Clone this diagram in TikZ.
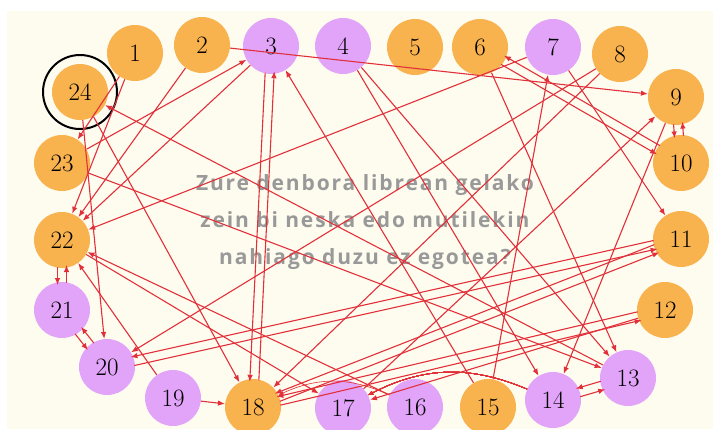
\documentclass[tikz,border=0pt]{standalone}
\usepackage{fontspec}
\usetikzlibrary{arrows.meta,calc}
\newfontfamily\titlefont{Open Sans}[LetterSpace=9]
\definecolor{cream}{HTML}{FEFCEF}
\definecolor{nodeorange}{HTML}{F8B24E}
\definecolor{nodepurple}{HTML}{E2A4F8}
\definecolor{edgered}{HTML}{E2303A}
\definecolor{titlegray}{HTML}{999999}
\tikzset{
  onode/.style={circle, fill=nodeorange, minimum size=56pt, inner sep=0pt, font=\fontsize{25}{25}\selectfont},
  pnode/.style={circle, fill=nodepurple, minimum size=56pt, inner sep=0pt, font=\fontsize{25}{25}\selectfont},
  edge/.style={draw=edgered, line width=1.1pt, -{Latex[length=7pt,width=5.5pt]}},
  thinedge/.style={draw=edgered, line width=0.6pt, -{Latex[length=5pt,width=4pt]}},
  titletext/.style={text=titlegray, font=\titlefont\bfseries\fontsize{21}{21}\selectfont, anchor=base}
}
\newcommand\biedge[2]{\draw[edge, shorten <=27pt, shorten >=25pt] ($(#1)!4.5pt!-90:(#2)$) -- ($(#2)!4.5pt!90:(#1)$);}
\begin{document}
\begin{tikzpicture}[x=1pt,y=-1pt]
\useasboundingbox (0,0) rectangle (713,429);
\clip (0,0) rectangle (713,429);
\fill[white] (0,0) rectangle (713,429);
\fill[cream] (7,11) rectangle (713,429);
% title
\node[titletext] (t1) at (365,190) {Zure denbora librean gelako};
\node[titletext] (t2) at (365,227) {zein bi neska edo mutilekin};
\node[titletext] (t3) at (365,264) {nahiago duzu ez egotea?};
% nodes
\node[onode] (n1) at (135,53) {1};
\node[onode] (n2) at (202,45) {2};
\node[pnode] (n3) at (271,46) {3};
\node[pnode] (n4) at (343,46) {4};
\node[onode] (n5) at (415,47) {5};
\node[onode] (n6) at (480,47) {6};
\node[pnode] (n7) at (553,47) {7};
\node[onode] (n8) at (620,54) {8};
\node[onode] (n9) at (676,97) {9};
\node[onode] (n10) at (681,163) {10};
\node[onode] (n11) at (681,239) {11};
\node[onode] (n12) at (665,310) {12};
\node[pnode] (n13) at (628,378) {13};
\node[pnode] (n14) at (553,400) {14};
\node[onode] (n15) at (488,407) {15};
\node[pnode] (n16) at (415,407) {16};
\node[pnode] (n17) at (343,408) {17};
\node[onode] (n18) at (253,407) {18};
\node[pnode] (n19) at (173,398) {19};
\node[pnode] (n20) at (107,367) {20};
\node[pnode] (n21) at (62,310) {21};
\node[onode] (n22) at (62,240) {22};
\node[onode] (n23) at (62,163) {23};
\node[onode] (n24) at (80,92) {24};
\draw[line width=2pt] (n24.center) circle (37pt);
% single edges
\foreach \a/\b in {1/23,1/22,2/9,2/22,3/22,4/14,4/13,6/13,7/11,7/22,8/20,8/18,9/14,13/24,15/3,15/7,16/22,17/9,19/22,19/18,22/17,23/3,23/13,24/20,24/18,12/17}
  \draw[edge] (n\a) -- (n\b);
% reciprocal edges
\foreach \a/\b in {3/18,18/3,9/10,10/9,6/10,10/6,11/20,20/11,11/18,18/11,12/18,18/12,13/14,14/13,20/21,21/20,21/22,22/21}
  \biedge{n\a}{n\b}
% thin arcs
\draw[thinedge] (n14) to[bend right=25] (n17);
\draw[thinedge] (n16) to[bend right=25] (n18);
\end{tikzpicture}
\end{document}
